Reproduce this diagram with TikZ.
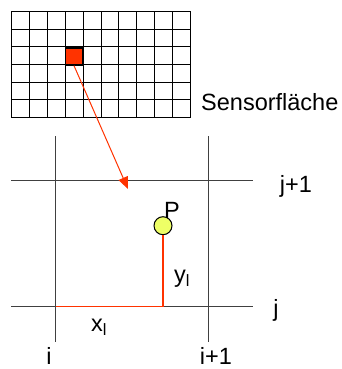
\documentclass[tikz,border=0pt]{standalone}
\usepackage{fontspec}
\setmainfont{Liberation Sans}
\usetikzlibrary{arrows.meta,positioning}

\definecolor{pixred}{RGB}{255,51,0}
\definecolor{pyellow}{RGB}{238,255,102}
\definecolor{linegray}{RGB}{64,64,64}

\begin{document}
\begin{tikzpicture}[
  x=1pt, y=-1pt,
  font=\fontsize{23.5}{27}\selectfont,
  gridline/.style={draw=black, line width=1pt},
  cellline/.style={draw=linegray, line width=1.3pt},
  redline/.style={draw=pixred, line width=1.6pt},
  arr/.style={redline, line width=1pt, -{Triangle[length=12pt, width=10pt]}},
  lbl/.style={inner sep=0pt}
]
  \useasboundingbox (0,0) rectangle (341,369);

  % Sensor grid (10 x 6 pixels)
  \foreach \c in {0,...,10}
    \draw[gridline] ({11.5+\c*17.9},11.5) -- ({11.5+\c*17.9},117.5);
  \foreach \r in {0,...,6}
    \draw[gridline] (11.5,{11.5+\r*17.67}) -- (190.5,{11.5+\r*17.67});
  \node[draw=black, line width=1.3pt, fill=pixred, minimum size=17pt, inner sep=0pt] (pixel) at (74,56.5) {};
  \node[lbl, anchor=west] (sensor) at (201,102) {Sensorfläche};

  % Enlarged pixel cell
  \coordinate (ij) at (55.5,306.5);
  \draw[cellline] (55.5,136) -- (55.5,342);
  \draw[cellline] (208.5,136) -- (208.5,342);
  \draw[cellline] (11,180.5) -- (253,180.5);
  \draw[cellline] (11,306.5) -- (253,306.5);

  % Point P and its local coordinates
  \coordinate (foot) at (163,306.5);
  \node[circle, draw=black, line width=1pt, fill=pyellow, minimum size=18pt, inner sep=0pt] (P) at (163,225.7) {};
  \node[lbl] (plabel) at (172,210) {P};
  \draw[redline] (ij) -- (foot);
  \draw[redline] (foot) -- (P.south);
  \node[lbl] (ylabel) at (182,279) {y\textsubscript{l}};
  \node[lbl] (xlabel) at (99,327) {x\textsubscript{l}};

  % Index labels
  \node[lbl] (jp1) at (296,186) {j+1};
  \node[lbl] (jlabel) at (276,310) {j};
  \node[lbl] (ilabel) at (49,356) {i};
  \node[lbl] (ip1) at (216,356) {i+1};

  % Zoom arrow
  \coordinate (target) at (128,189);
  \draw[arr] (pixel.south) -- (target);
\end{tikzpicture}
\end{document}
